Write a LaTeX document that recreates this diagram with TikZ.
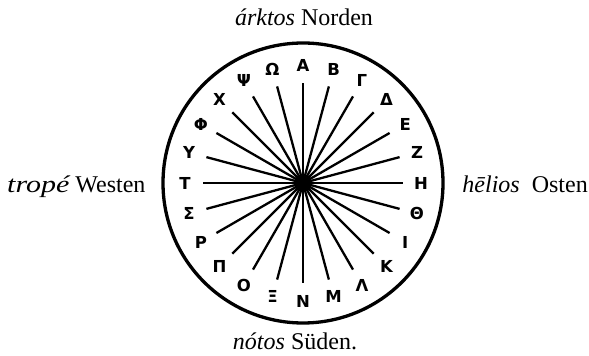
\documentclass[tikz,border=0pt]{standalone}
\usepackage{fontspec}
\setmainfont{Liberation Serif}
\newfontfamily\grk{DejaVu Sans}
\begin{document}
\begin{tikzpicture}[x=1pt,y=1pt,
  rim/.style={circle, draw, line width=3.3pt, minimum size=280pt, inner sep=0pt},
  letter/.style={font=\grk\bfseries\fontsize{16.5}{16.5}\selectfont, inner sep=0pt},
  ray/.style={line width=2.3pt},
  lbl/.style={font=\fontsize{24}{24}\selectfont, inner sep=0pt}]
\useasboundingbox (0,0) rectangle (589,356);
\coordinate (c) at (303,173);
\node[rim] (rim) at (c) {};
\foreach \l [count=\i from 0] in {Α,Β,Γ,Δ,Ε,Ζ,Η,Θ,Ι,Κ,Λ,Μ,Ν,Ξ,Ο,Π,Ρ,Σ,Τ,Υ,Φ,Χ,Ψ,Ω} {
  \pgfmathsetmacro\ang{90-15*\i}
  \node[letter] (L\i) at ([shift={(\ang:118)}]c) {\l};
  \coordinate (R\i) at ([shift={(\ang:100)}]c);
  \draw[ray] (c) -- (R\i);
}
\fill (c) circle (6.5);
\node[lbl, anchor=base] (north) at (304,330) {\textit{árktos} Norden};
\node[lbl, anchor=base] (south) at (295,6) {\textit{nótos} Süden.};
\node[lbl, anchor=base west] (west) at (7,163) {{\itshape\addfontfeature{FakeStretch=1.25}tropé} Westen};
\node[lbl, anchor=base east] (east) at (588,163) {\textit{hēlios}\hspace{12pt}Osten};
\end{tikzpicture}
\end{document}
